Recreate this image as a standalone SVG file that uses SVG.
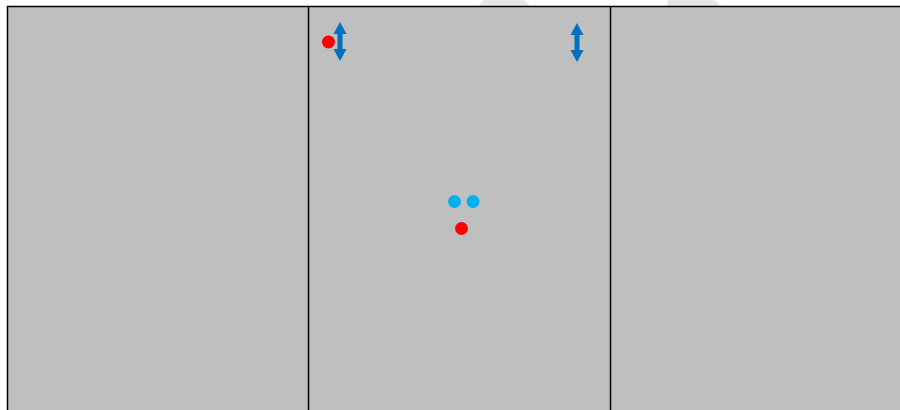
<svg xmlns="http://www.w3.org/2000/svg" width="900" height="410" viewBox="0 0 900 410">
<style>
.panel{fill:#bfbfbf;stroke:none}
.div{stroke:#000;stroke-width:1.5;fill:none}
.arrow{fill:#0070c0}
.red{fill:#ff0000}
.cyan{fill:#00b0f0}
.wm{fill:#e6e6e6}
</style>
<rect x="0" y="0" width="900" height="410" fill="#fff"/>
<polygon class="wm" points="484,0 524,0 530,6 479,6"/>
<polygon class="wm" points="668,0 714,0 721,6 667,6"/>
<g id="panels">
<rect class="panel" x="7" y="6" width="893" height="404"/>
<path class="div" d="M7.5,410 V6.5 H900 M308.5,6.5 V410 M610.5,6.5 V410"/>
</g>
<g id="arrow-left">
<path class="arrow" d="M340,22 L346.5,34 L342.5,34 L342.5,49 L346.5,49 L340,61 L333.5,49 L337.5,49 L337.5,34 L333.5,34 Z"/>
</g>
<g id="arrow-right">
<path class="arrow" d="M577,23 L583.5,35 L579.5,35 L579.5,50 L583.5,50 L577,62 L570.5,50 L574.5,50 L574.5,35 L570.5,35 Z"/>
</g>
<g id="dots">
<circle class="red" cx="328.5" cy="42" r="6.5"/>
<circle class="cyan" cx="454.5" cy="201.5" r="6.5"/>
<circle class="cyan" cx="473" cy="201.5" r="6.5"/>
<circle class="red" cx="461.5" cy="228.5" r="6.5"/>
</g>
</svg>
